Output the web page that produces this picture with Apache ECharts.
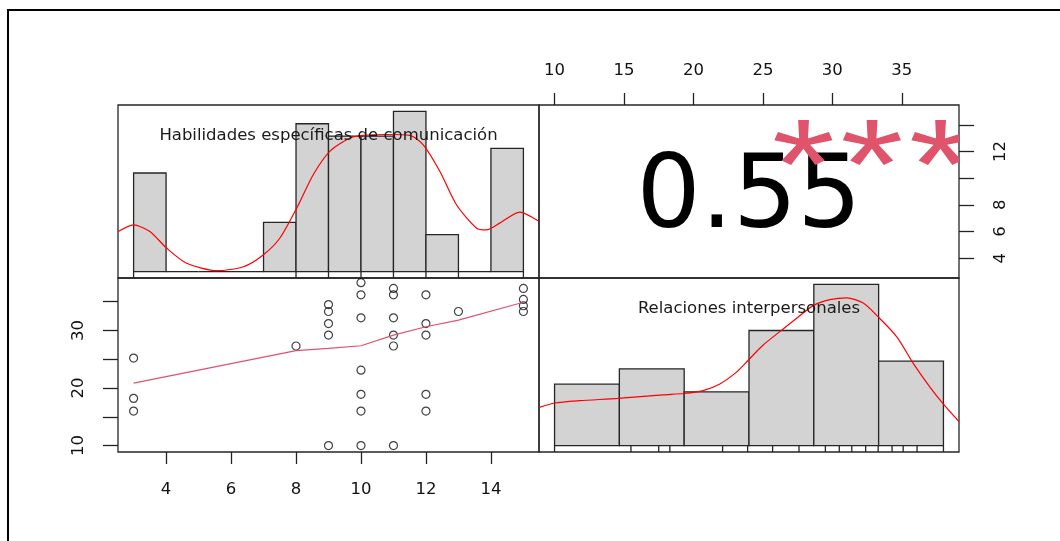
<!DOCTYPE html>
<html><head><meta charset="utf-8">
<script src="https://cdn.jsdelivr.net/npm/echarts@6/dist/echarts.min.js"></script>
<style>html,body{margin:0;padding:0;background:#fff}#c{width:1060px;height:541px}</style>
</head><body><div id="c"></div>
<script>
// ---------------- data ----------------
const varNames = ['Habilidades específicas de comunicación', 'Relaciones interpersonales'];
const range1 = [3, 15];
const range2 = [10, 38];

// histogram of variable 1
const hist1Breaks = [3, 4, 5, 6, 7, 8, 9, 10, 11, 12, 13, 14, 15];
const hist1Counts = [8, 0, 0, 0, 4, 12, 11, 11, 13, 3, 0, 10];
const rug1 = [3, 8, 9, 10, 11, 12, 13, 15];
const dens1X = [2.53, 2.99, 3.5, 4.02, 4.63, 5.56, 6.38, 6.99, 7.5, 8.02, 8.53, 9.04, 9.66, 10.07, 10.8, 11.5, 11.91, 12.43, 12.94, 13.56, 13.86, 14.27, 14.89, 15.45];
const dens1Y = [0.0451, 0.0527, 0.0451, 0.0263, 0.0094, 0.0010, 0.0055, 0.0188, 0.0376, 0.0715, 0.1092, 0.1355, 0.1506, 0.1536, 0.1545, 0.1536, 0.1431, 0.1129, 0.0753, 0.0489, 0.0470, 0.0546, 0.0670, 0.0572];

// histogram of variable 2
const hist2Breaks = [10, 14.667, 19.333, 24, 28.667, 33.333, 38];
const hist2Counts = [8, 10, 7, 15, 21, 11];
const rug2 = [10, 15.5, 17.5, 18.3, 22.1, 23.9, 25.7, 27.6, 29.5, 30.5, 31.4, 32.4, 33.3, 34.3, 35.1, 36.1, 38];
const dens2X = [8.9, 10, 11.8, 14.56, 17.81, 19.32, 20.69, 21.9, 23.1, 23.89, 25.02, 26.22, 27.43, 28.62, 29.83, 31.03, 32.23, 33.27, 34.64, 35.84, 37.04, 38.0, 39.12];
const dens2Y = [0.0148, 0.0165, 0.0174, 0.0183, 0.0197, 0.0202, 0.0213, 0.0239, 0.0285, 0.0328, 0.0390, 0.0442, 0.0494, 0.0543, 0.0566, 0.0573, 0.0553, 0.0501, 0.0422, 0.0318, 0.0226, 0.0161, 0.0093];

// scatter (variable 1 on x, variable 2 on y)
const scatterX = [3, 3, 3, 8, 9, 9, 9, 9, 9, 10, 10, 10, 10, 10, 10, 10, 11, 11, 11, 11, 11, 11, 12, 12, 12, 12, 12, 13, 15, 15, 15, 15];
const scatterY = [25.2, 18.2, 16.0, 27.3, 34.5, 33.3, 31.2, 29.2, 10.0, 38.3, 36.2, 32.2, 23.1, 18.9, 16.0, 10.0, 37.3, 36.2, 32.2, 29.2, 27.3, 10.0, 36.2, 31.2, 29.2, 18.9, 16.0, 33.3, 37.3, 35.4, 34.3, 33.3];
const smoothX = [3, 8, 9, 10, 11, 12, 13, 15];
const smoothY = [20.85, 26.5, 26.9, 27.35, 29.2, 30.65, 31.8, 34.9];

// correlation
const corrText = '0.55';
const sigText = '***';

// axis ticks / labels
const ticksBottom = [4, 6, 8, 10, 12, 14];
const labelsBottom = [4, 6, 8, 10, 12, 14];
const ticksTop = [10, 15, 20, 25, 30, 35];
const labelsTop = [10, 15, 20, 25, 30, 35];
const ticksRight = [4, 6, 8, 10, 12, 14];
const labelsRight = [4, 6, 8, 12];
const ticksLeft = [10, 15, 20, 25, 30, 35];
const labelsLeft = [10, 20, 30];

// ---------------- layout / style ----------------
const L = { x0: 118, x1: 539, x2: 959, y0: 105, y1: 278, y2: 452 };
const FONT = 'DejaVu Sans';
const ext = r => [r[0] - 0.04 * (r[1] - r[0]), r[1] + 0.04 * (r[1] - r[0])];
const x1Ext = ext(range1), x2Ext = ext(range2);

function histData(breaks, counts) {
  const n = counts.reduce((a, b) => a + b, 0);
  return counts.map((c, i) => [breaks[i], breaks[i + 1], c / (n * (breaks[i + 1] - breaks[i]))]);
}
const h1 = histData(hist1Breaks, hist1Counts);
const h2 = histData(hist2Breaks, hist2Counts);
const h1Max = Math.max(...h1.map(d => d[2]));
const h2Max = Math.max(...h2.map(d => d[2]));
const h1Ext = [-0.04 * h1Max, 1.04 * h1Max];
const h2Ext = [-0.04 * h2Max, 1.04 * h2Max];

const zip = (a, b) => a.map((v, i) => [v, b[i]]);

function histRender(params, api) {
  const p0 = api.coord([api.value(0), 0]);
  const p1 = api.coord([api.value(1), api.value(2)]);
  return { type: 'rect', shape: { x: p0[0], y: p1[1], width: p1[0] - p0[0], height: p0[1] - p1[1] },
    style: { fill: '#D3D3D3', stroke: '#262626', lineWidth: 1.3 } };
}
function rugRender(yMin) {
  return function (params, api) {
    const a = api.coord([api.value(0), yMin]);
    const b = api.coord([api.value(0), 0]);
    return { type: 'line', shape: { x1: a[0], y1: a[1], x2: b[0], y2: b[1] }, style: { stroke: '#262626', lineWidth: 1.3 } };
  };
}
function labelRender(txt) {
  return function (params) {
    const cs = params.coordSys;
    return { type: 'text', style: { text: txt, x: cs.x + cs.width * 0.5, y: cs.y + cs.height * 0.175,
      align: 'center', verticalAlign: 'middle', textAlign: 'center', textVerticalAlign: 'middle',
      fontSize: 16.5, fontFamily: FONT, fill: '#1a1a1a' } };
  };
}
function corrRender(params) {
  const cs = params.coordSys;
  const children = [
    { type: 'text', style: { text: corrText, x: cs.x + cs.width * 0.5, y: cs.y + cs.height * 0.5 + 9,
      align: 'center', verticalAlign: 'middle', textAlign: 'center', textVerticalAlign: 'middle',
      fontSize: 101, fontFamily: FONT, fill: '#000' } }
  ];
  const chars = sigText.split('');
  const step = 68.5;
  const cx = cs.x + cs.width * 0.8 - 3, cy = cs.y + cs.height * 0.2 + 33;
  chars.forEach((ch, i) => {
    children.push({ type: 'text', x: cx + (i - (chars.length - 1) / 2) * step, y: cy, scaleX: 1.27, scaleY: 1,
      style: { text: ch, x: 0, y: 0, align: 'center', verticalAlign: 'middle', textAlign: 'center', textVerticalAlign: 'middle',
        fontSize: 128, fontFamily: 'Liberation Sans', fill: '#DF536B' } });
  });
  return { type: 'group', children: children };
}

const tickStyle = { color: '#222', width: 1.3 };
const labelStyle = { fontSize: 16.5, fontFamily: FONT, color: '#111' };
const hidden = (mm, gi) => ({ type: 'value', gridIndex: gi, min: mm[0], max: mm[1], show: false });

const grids = [
  [L.x0, L.y0, L.x1 - L.x0, L.y1 - L.y0],
  [L.x1, L.y0, L.x2 - L.x1, L.y1 - L.y0],
  [L.x0, L.y1, L.x1 - L.x0, L.y2 - L.y1],
  [L.x1, L.y1, L.x2 - L.x1, L.y2 - L.y1]
].map(g => ({ left: g[0], top: g[1], width: g[2], height: g[3], show: true, borderColor: '#262626', borderWidth: 1.3,
  backgroundColor: 'transparent', containLabel: false, outerBoundsMode: 'none' }));

const option = {
  animation: false,
  backgroundColor: '#fff',
  grid: grids,
  xAxis: [
    hidden(x1Ext, 0),
    { type: 'value', gridIndex: 1, min: x2Ext[0], max: x2Ext[1], position: 'top',
      axisLine: { show: false }, splitLine: { show: false },
      axisTick: { show: true, customValues: ticksTop, length: 12, lineStyle: tickStyle },
      axisLabel: Object.assign({ customValues: labelsTop, margin: 26 }, labelStyle) },
    { type: 'value', gridIndex: 2, min: x1Ext[0], max: x1Ext[1], position: 'bottom',
      axisLine: { show: false }, splitLine: { show: false },
      axisTick: { show: true, customValues: ticksBottom, length: 12, lineStyle: tickStyle },
      axisLabel: Object.assign({ customValues: labelsBottom, margin: 29 }, labelStyle) },
    hidden(x2Ext, 3)
  ],
  yAxis: [
    hidden(h1Ext, 0),
    { type: 'value', gridIndex: 1, min: x1Ext[0], max: x1Ext[1], position: 'right',
      axisLine: { show: false }, splitLine: { show: false },
      axisTick: { show: true, customValues: ticksRight, length: 15, lineStyle: tickStyle },
      axisLabel: Object.assign({ customValues: labelsRight, margin: 33, rotate: 90 }, labelStyle) },
    { type: 'value', gridIndex: 2, min: x2Ext[0], max: x2Ext[1], position: 'left',
      axisLine: { show: false }, splitLine: { show: false },
      axisTick: { show: true, customValues: ticksLeft, length: 15, lineStyle: tickStyle },
      axisLabel: Object.assign({ customValues: labelsLeft, margin: 31, rotate: 90 }, labelStyle) },
    hidden(h2Ext, 3)
  ],
  graphic: [
    { type: 'rect', silent: true, shape: { x: 8, y: 10, width: 1200, height: 700 },
      style: { fill: null, stroke: '#000', lineWidth: 2 } }
  ],
  series: [
    // top-left: histogram of variable 1
    { type: 'custom', xAxisIndex: 0, yAxisIndex: 0, data: h1, renderItem: histRender, silent: true, z: 2 },
    { type: 'line', xAxisIndex: 0, yAxisIndex: 0, data: zip(dens1X, dens1Y), showSymbol: false, smooth: 0.25,
      lineStyle: { color: '#FF0000', width: 1.2 }, silent: true, z: 3 },
    { type: 'custom', xAxisIndex: 0, yAxisIndex: 0, data: rug1.map(v => [v]), renderItem: rugRender(h1Ext[0]), silent: true, z: 3 },
    { type: 'custom', xAxisIndex: 0, yAxisIndex: 0, data: [[0, 0]], renderItem: labelRender(varNames[0]), silent: true, z: 5 },
    // top-right: correlation
    { type: 'custom', xAxisIndex: 1, yAxisIndex: 1, data: [[20, 8]], renderItem: corrRender, clip: true, silent: true, z: 5 },
    // bottom-left: scatter + smooth
    { type: 'scatter', xAxisIndex: 2, yAxisIndex: 2, data: zip(scatterX, scatterY), symbol: 'circle', symbolSize: 8,
      itemStyle: { color: 'rgba(255,255,255,0)', borderColor: '#111', borderWidth: 1.2 }, silent: true, z: 3 },
    { type: 'line', xAxisIndex: 2, yAxisIndex: 2, data: zip(smoothX, smoothY), showSymbol: false,
      lineStyle: { color: '#DF536B', width: 1.2 }, silent: true, z: 4 },
    // bottom-right: histogram of variable 2
    { type: 'custom', xAxisIndex: 3, yAxisIndex: 3, data: h2, renderItem: histRender, silent: true, z: 2 },
    { type: 'line', xAxisIndex: 3, yAxisIndex: 3, data: zip(dens2X, dens2Y), showSymbol: false, smooth: 0.25,
      lineStyle: { color: '#FF0000', width: 1.2 }, silent: true, z: 3 },
    { type: 'custom', xAxisIndex: 3, yAxisIndex: 3, data: rug2.map(v => [v]), renderItem: rugRender(h2Ext[0]), silent: true, z: 3 },
    { type: 'custom', xAxisIndex: 3, yAxisIndex: 3, data: [[20, 0]], renderItem: labelRender(varNames[1]), silent: true, z: 5 }
  ]
};
const chart = echarts.init(document.getElementById('c'), null, { renderer: 'canvas' });
chart.setOption(option);
</script>
</body></html>
